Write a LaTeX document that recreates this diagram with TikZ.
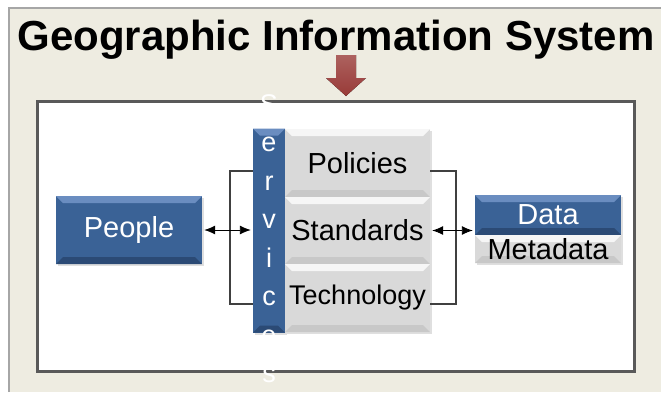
\documentclass[tikz,border=0pt]{standalone}
\usepackage{fontspec}
\setmainfont{Liberation Sans}
\usepackage{xcolor}
\usetikzlibrary{positioning, arrows.meta, shadows}

\definecolor{gisbeige}{HTML}{EEECE1}
\definecolor{framegray}{HTML}{A6A6A6}
\definecolor{boxgray}{HTML}{D9D9D9}
\definecolor{gisblue}{HTML}{3A6296}
\definecolor{gisbluelt}{HTML}{6A8DC0}
\definecolor{gisbluedk}{HTML}{2B4A75}
\definecolor{arrowred}{HTML}{983A37}

\tikzset{
  % light top face, dark bottom face
  bevel/.style 2 args={path picture={
    \fill[#1] (path picture bounding box.north west) -- (path picture bounding box.north east)
      -- ([xshift=-7pt,yshift=-7pt]path picture bounding box.north east)
      -- ([xshift=7pt,yshift=-7pt]path picture bounding box.north west) -- cycle;
    \fill[#2] (path picture bounding box.south west) -- (path picture bounding box.south east)
      -- ([xshift=-7pt,yshift=7pt]path picture bounding box.south east)
      -- ([xshift=7pt,yshift=7pt]path picture bounding box.south west) -- cycle;
  }},
  boxshadow/.style={drop shadow={shadow xshift=1.5pt, shadow yshift=-2pt, opacity=0.25}},
  bluebox/.style={fill=gisblue, text=white, inner sep=0pt, boxshadow,
    bevel={gisbluelt}{gisbluedk}, font=\fontsize{29}{29}\selectfont},
  graybox/.style={fill=boxgray, text=black, inner sep=0pt, boxshadow,
    bevel={white!75!boxgray}{black!8!boxgray}, font=\fontsize{29}{29}\selectfont},
  link/.style={black, line width=0.9pt, {Latex[length=11pt,width=9pt]}-{Latex[length=11pt,width=9pt]},
    shorten <=2pt, shorten >=2pt},
  bracket/.style={draw=black!75, line width=1.5pt},
}

\begin{document}
\begin{tikzpicture}[x=1pt, y=-1pt]
		\useasboundingbox (0,0) rectangle (661,392);
		\clip (0,0) rectangle (661,392);
		\fill[white] (0,0) rectangle (661,392);

		% Frame
		\fill[gisbeige] (9,8) rectangle (661,392);
		\draw[framegray, line width=2pt] (9,392) -- (9,8) -- (661,8);

		% Title and arrow
		\node (title) at (336,50) [anchor=base, font=\bfseries\fontsize{42}{42}\selectfont] {Geographic Information System};
		\fill[top color=arrowred!80!white, bottom color=arrowred] (336,55) -- (356,55) -- (356,78) -- (366,78)
			-- (346,96) -- (326,78) -- (336,78) -- cycle;

		% Panel
		\node (panel) at (335.5,236) [draw=black!65, line width=3pt, fill=white, inner sep=0pt,
			minimum width=597pt, minimum height=270pt] {};

		% Services bar and its three parts
		\node (svcbar) at (269,230.5) [fill=gisblue, inner sep=0pt, boxshadow, bevel={gisbluelt}{gisbluedk},
			minimum width=32pt, minimum height=204pt] {};
		\node (policies) at (357.5,163) [graybox, minimum width=145pt, minimum height=68pt] {Policies};
		\node (standards) at (357.5,230.5) [graybox, minimum width=145pt, minimum height=67pt] {Standards};
		\node (technology) at (357.5,298) [graybox, minimum width=145pt, minimum height=68pt,
			font=\fontsize{27}{27}\selectfont] {Technology};

		% People, Data
		\node (people) at (129,230) [bluebox, minimum width=146pt, minimum height=68pt] {People};
		\node (data) at (548,215) [bluebox, minimum width=146pt, minimum height=40pt] {Data};
		\node (metadata) at (548,249) [graybox, minimum width=146pt, minimum height=28pt] {Metadata};

		% Brackets
		\coordinate (lbtop) at (230,171); \coordinate (lbbot) at (230,304);
		\coordinate (rbtop) at (456,171); \coordinate (rbbot) at (456,304);
		\draw[bracket] (svcbar.west |- lbtop) -- (lbtop) -- (lbbot) -- (svcbar.west |- lbbot);
		\draw[bracket] (policies.east |- rbtop) -- (rbtop) -- (rbbot) -- (technology.east |- rbbot);

		\draw[link] (people.east) -- (people.east -| svcbar.west);
		\draw[link] (standards.east) -- (standards.east -| data.west);

		% Vertical lettering
		\foreach \ch [count=\k] in {S,e,r,v,i,c,e,s}
			\node (svc\k) at (269,74.5+38.5*\k) [anchor=base, text=white, inner sep=0pt,
				font=\fontsize{27}{27}\selectfont] {\ch};
	\end{tikzpicture}
\end{document}
